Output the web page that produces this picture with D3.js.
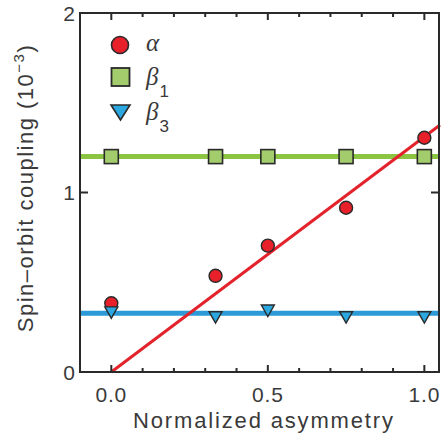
<!DOCTYPE html>
<html><head><meta charset="utf-8">
<script src="https://cdn.jsdelivr.net/npm/d3@7"></script>
<style>body{margin:0;background:#fff}svg{display:block}</style>
</head><body>
<script>
// Data
const xs = [0.0, 0.333, 0.5, 0.75, 1.0];
const alpha = [0.383, 0.536, 0.704, 0.915, 1.305];
const beta1 = [1.2, 1.2, 1.2, 1.2, 1.2];
const beta3 = [0.331, 0.304, 0.341, 0.304, 0.304];
const alphaFit = [[0, 0], [1.05, 1.376]];
const beta1Level = 1.2;
const beta3Level = 0.327;
const xTickLabels = ["0.0", "0.5", "1.0"];
const xTickValues = [0, 0.5, 1.0];
const yTickValues = [0, 1, 2];

const W = 441, H = 443;
const m = {left: 80, right: 1, top: 13, bottom: 71};
const svg = d3.select("body").append("svg").attr("width", W).attr("height", H);
const x = d3.scaleLinear().domain([-0.1, 1.05]).range([m.left, W - m.right]);
const y = d3.scaleLinear().domain([0, 2]).range([H - m.bottom, m.top]);

const ink = "#2a2a2a", txt = "#3a3a3a";
const g = svg.append("g");

// lines
const line = d3.line().x(d => x(d[0])).y(d => y(d[1]));
g.append("path").attr("d", line([[-0.1, beta3Level], [1.05, beta3Level]]))
  .attr("stroke", "#2b9ad6").attr("stroke-width", 5).attr("fill", "none");
g.append("path").attr("d", line([[-0.1, beta1Level], [1.05, beta1Level]]))
  .attr("stroke", "#8cc541").attr("stroke-width", 5).attr("fill", "none");
g.append("path").attr("d", line(alphaFit))
  .attr("stroke", "#e3232b").attr("stroke-width", 3).attr("fill", "none");

// markers
const circleFill = "#e8202a", squareFill = "#a3cd6c", triFill = "#2aa8df";
g.selectAll(".a").data(xs).join("circle")
  .attr("cx", d => x(d)).attr("cy", (d, i) => y(alpha[i])).attr("r", 6.5)
  .attr("fill", circleFill).attr("stroke", ink).attr("stroke-width", 1.4);
g.selectAll(".b1").data(xs).join("rect")
  .attr("x", d => x(d) - 7).attr("y", (d, i) => y(beta1[i]) - 7)
  .attr("width", 14).attr("height", 14)
  .attr("fill", squareFill).attr("stroke", ink).attr("stroke-width", 1.6);
const tri = (cx, cy, w, h) => `M${cx - w / 2},${cy - h / 2}L${cx + w / 2},${cy - h / 2}L${cx},${cy + h / 2}Z`;
g.selectAll(".b3").data(xs).join("path")
  .attr("d", (d, i) => tri(x(d), y(beta3[i]), 13, 11.5))
  .attr("fill", triFill).attr("stroke", ink).attr("stroke-width", 1.4).attr("stroke-linejoin", "miter");

// frame
const x0 = x(-0.1), x1 = x(1.05), y0 = y(0), y1 = y(2);
svg.append("rect").attr("x", x0).attr("y", y1).attr("width", x1 - x0 - 1).attr("height", y0 - y1)
  .attr("fill", "none").attr("stroke", ink).attr("stroke-width", 2);

// ticks
const minor = d3.range(0, 11).map(i => i / 10);
const tk = svg.append("g").attr("stroke", ink).attr("stroke-width", 2);
minor.forEach(v => {
  const L = (Math.abs(v * 2 - Math.round(v * 2)) < 1e-6) ? 7 : 4;
  tk.append("line").attr("x1", x(v)).attr("x2", x(v)).attr("y1", y0).attr("y2", y0 - L);
  tk.append("line").attr("x1", x(v)).attr("x2", x(v)).attr("y1", y1).attr("y2", y1 + L);
});
yTickValues.forEach(v => {
  tk.append("line").attr("x1", x0).attr("x2", x0 + 8).attr("y1", y(v)).attr("y2", y(v));
  tk.append("line").attr("x1", x1 - 1).attr("x2", x1 - 9).attr("y1", y(v)).attr("y2", y(v));
});

const font = "'Liberation Sans', Arial, sans-serif";
// x tick labels
svg.selectAll(".xl").data(xTickValues).join("text")
  .attr("x", d => x(d)).attr("y", 402).attr("text-anchor", "middle")
  .attr("font-family", font).attr("font-size", 21).attr("fill", txt)
  .attr("letter-spacing", 0.8)
  .text((d, i) => xTickLabels[i]);
// y tick labels
svg.selectAll(".yl").data(yTickValues).join("text")
  .attr("x", 75).attr("y", d => y(d) + 7.5).attr("text-anchor", "end")
  .attr("font-family", font).attr("font-size", 21).attr("fill", txt)
  .text(d => d);

// axis titles
svg.append("text").attr("x", 263).attr("y", 428).attr("text-anchor", "middle")
  .attr("font-family", font).attr("font-size", 22).attr("fill", txt)
  .attr("textLength", 260).attr("lengthAdjust", "spacing")
  .text("Normalized asymmetry");
const yt = svg.append("text").attr("transform", "translate(33,188) rotate(-90)")
  .attr("text-anchor", "middle")
  .attr("font-family", font).attr("font-size", 22).attr("fill", txt)
  .attr("letter-spacing", 1.5);
yt.append("tspan").text("Spin\u2013orbit coupling (10");
yt.append("tspan").attr("font-size", 15).attr("dy", -9).text("\u22123");
yt.append("tspan").attr("dy", 9).text(")");

// legend
const lg = svg.append("g");
lg.append("circle").attr("cx", 120).attr("cy", 45).attr("r", 8.5)
  .attr("fill", circleFill).attr("stroke", ink).attr("stroke-width", 1.6);
lg.append("rect").attr("x", 111.5).attr("y", 68).attr("width", 18).attr("height", 18)
  .attr("fill", squareFill).attr("stroke", ink).attr("stroke-width", 1.8);
lg.append("path").attr("d", tri(120.5, 112.5, 19, 15))
  .attr("fill", triFill).attr("stroke", ink).attr("stroke-width", 1.6);
const serif = "'Liberation Serif', 'Times New Roman', serif";
const legendNames = [["\u03b1", ""], ["\u03b2", "1"], ["\u03b2", "3"]];
const legendBase = [51, 85, 120];
legendNames.forEach((n, i) => {
  const t = lg.append("text").attr("x", 146).attr("y", legendBase[i])
    .attr("font-family", serif).attr("font-size", 25).attr("font-style", "italic").attr("fill", txt);
  t.append("tspan").text(n[0]);
  if (n[1]) t.append("tspan").attr("font-family", font).attr("font-style", "normal")
    .attr("font-size", 17).attr("dx", 1).attr("dy", 12).text(n[1]);
});
</script>
</body></html>
